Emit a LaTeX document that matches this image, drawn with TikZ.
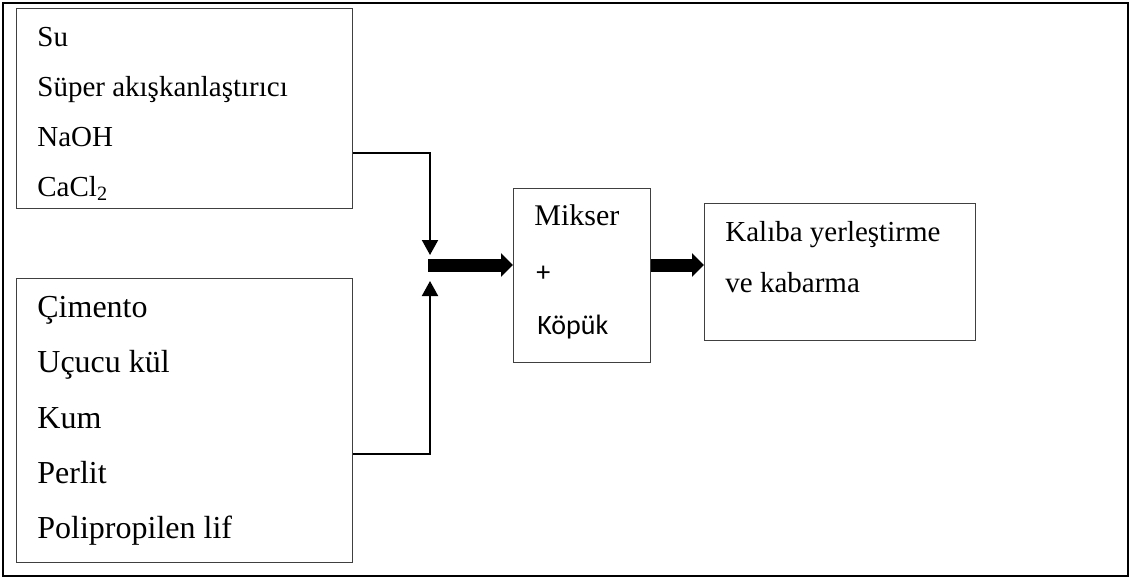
\documentclass[tikz,border=0pt]{standalone}
\usepackage{fontspec}
\setmainfont{Liberation Serif}
\newfontfamily\calib{Carlito}
\usetikzlibrary{arrows.meta,calc}

\tikzset{
  box/.style={draw=black!75, line width=0.7pt, anchor=north west, inner sep=0pt},
  lbl/.style={anchor=base west, inner sep=0pt},
  feed/.style={draw=black, line width=1pt, -{Triangle[length=7.5pt,width=8pt]}},
  flow/.style={draw=black, line width=6.5pt, -{Triangle[length=6pt,width=11.5pt]}},
  topfont/.style={font=\fontsize{14.5}{17}\selectfont},
  botfont/.style={font=\fontsize{16}{19}\selectfont},
  sansfont/.style={font=\calib\fontsize{14}{17}\selectfont},
}

\begin{document}
\begin{tikzpicture}[x=0.5pt, y=-0.5pt]
  \useasboundingbox (0,0) rectangle (1130,578);

  % outer frame
  \draw[line width=1pt] (2.5,2.5) rectangle (1128,576);

  % input boxes
  \node[box, minimum width=168pt, minimum height=100pt] (liquids) at (16,8) {};
  \node[box, minimum width=168pt, minimum height=142pt] (solids) at (16,278) {};

  \node[lbl, topfont] (su)    at (37,46.5)  {Su};
  \node[lbl, topfont] (spa)   at (37,96.5)  {Süper akışkanlaştırıcı};
  \node[lbl, topfont] (naoh)  at (37,146.5) {NaOH};
  \node[lbl, topfont] (cacl)  at (37,196.5) {CaCl\textsubscript{2}};

  \node[lbl, botfont] (cim)   at (37,317)   {Çimento};
  \node[lbl, botfont] (ucucu) at (37,372)   {Uçucu kül};
  \node[lbl, botfont] (kum)   at (37,428)   {Kum};
  \node[lbl, botfont] (perl)  at (37,483)   {Perlit};
  \node[lbl, botfont] (pp)    at (37,538)   {Polipropilen lif};

  % mixer
  \node[box, minimum width=68.5pt, minimum height=87pt] (mixer) at (513,188) {};
  \node[lbl, font=\fontsize{15}{18}\selectfont] (mik) at (534,225) {Mikser};
  \node[lbl, sansfont] (plus) at (536,281) {+};
  \node[lbl, sansfont] (kop)  at (537,334) {Köpük};

  % moulding
  \node[box, minimum width=135.5pt, minimum height=68.5pt] (mould) at (704,203) {};
  \node[lbl, topfont] (kal) at (725,241) {Kalıba yerleştirme};
  \node[lbl, topfont] (kab) at (725,292) {ve kabarma};

  % junction points
  \coordinate (jtop) at (430,255);
  \coordinate (jbot) at (430,281);
  \coordinate (jmix) at (428,265);

  % feed lines
  \draw[feed] ($(liquids.south east)+(0,-56)$) -| (jtop);
  \draw[feed] ($(solids.south east)+(0,-109)$) -| (jbot);

  % main flow
  \draw[flow] (jmix) -- (jmix -| mixer.west);
  \draw[flow] (mixer.east |- jmix) -- (mould.west |- jmix);
\end{tikzpicture}
\end{document}
